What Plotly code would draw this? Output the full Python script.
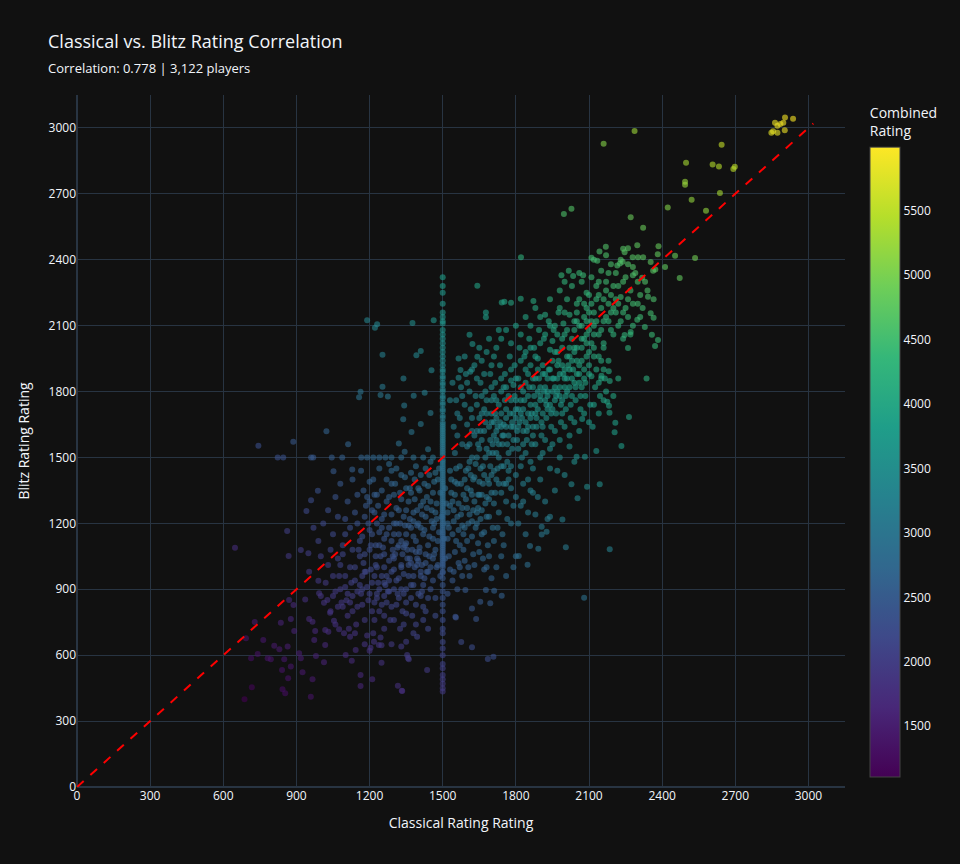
import plotly.graph_objects as go

# ---- Data (classical, blitz) grouped by region ----
top_sparse = [(2287,2986),(2160,2928),(2644,2924),(2498,2842),(2607,2834),(2633,2825),(2698,2823),(2692,2813),
              (2494,2755),(2494,2741),(2637,2704),(2521,2673),(2423,2638),(2580,2623),(2271,2594),(2322,2546),
              (2535,2408),(2472,2317),(1997,2608),(2028,2632)]
top_cluster = [(2904,3048),(2937,3042),(2863,3024),(2873,3010),(2897,3024),(2885,3018),(2848,2978),(2873,2978),
               (2903,2990),(2855,2985)]
green_edge = [(2453,2418),(2412,2367),(2385,2462),(2382,2425),(2298,2466),(2260,2452),(2246,2434),(2143,2438),
              (2169,2459),(2110,2409),(2134,2396),(2227,2383),(2238,2391),(2216,2374),(2279,2411),(2301,2411),
              (2322,2411),(2353,2390),(2372,2356),(2363,2350),(2280,2367),(2318,2318),(2342,2232),(2365,2220),
              (2353,2157),(2365,2136),(2298,2127),(2329,2094),(2358,2059),(2383,2035),(2371,2007),(2260,1998),
              (2271,2071),(2246,2057),(2336,1859),(2181,1892),(2151,1872),(2185,1848),(2175,1754),(2182,1736),
              (2184,1704),(2264,1684),(2208,1658),(2205,1615),(2233,1552),(2072,1675)]
upper_left = [(1190,2125),(1222,2091),(1231,2107),(1253,1968),(1376,2112),(1392,1965),(1410,1985),(1163,1799),
              (1157,1774),(1245,1784),(1275,1777),(1253,1822),(1339,1859),(1463,2125),(1821,2411),(1642,2282),
              (1742,2206),(1753,2209),(1780,2204),(1677,2160),(1677,2138),(1820,2223),(1872,2212),(1987,2330),
              (2017,2350),(2035,2326),(2076,2329),(1454,1897),(1610,2059),(1622,2016),(1642,1959),(1342,1737),
              (1381,1781),(1426,1795),(1573,1898),(1565,1863),(1613,1890),(1338,1674),(1372,1616),(1410,1652),
              (1450,1702),(1320,1564),(1344,1526),(1440,1537),(744,1553),(887,1572),(1023,1619),(1112,1560),
              (1052,1437),(1129,1445)]
blitz_1500_row = [(823,1500),(846,1500),(960,1500),(969,1500),(1045,1500),(1088,1500),(1166,1500),(1190,1500),
                  (1215,1500),(1240,1500),(1265,1500),(1290,1500),(1330,1500),(1380,1500),(1420,1500),(1460,1500)]
column_blitz = [435,450,470,490,510,540,560,600,630,660,700,720,760,800,830,860,890,920,950,975,
                980,1000,1010,1020,1030,1040,1050,1060,1070,1080,1090,1100,1110,1120,1130,1140,1150,
                1160,1170,1180,1190,1200,1210,1220,1230,1240,1250,1260,1270,1280,1290,1300,1310,1320,
                1330,1340,1350,1360,1370,1380,1390,1400,1410,1420,1430,1440,1450,1460,1470,1480,1490,
                1510,1520,1530,1540,1550,1560,1570,1580,1590,1600,1610,1620,1630,1640,1650,1660,1680,
                1690,1710,1720,1740,1750,1770,1780,1800,1810,1830,1840,1860,1870,1890,1900,1920,1940,
                1960,1980,2000,2020,2040,2060,2080,2110,2120,2140,2160,2200,2250,2280,2320]
classical_1500_column = [(1500, b) for b in column_blitz]
lower_right = [(2185,1082),(2080,862),(2005,1091),(1906,1149),(1892,1085),(1858,1097),(1848,1012),(1812,1051),
               (1708,593),(1685,583),(1620,636),(1576,660),(1637,765),(1554,771),(1436,533),(1350,661),
               (1358,586),(1334,437),(1593,897),(1654,843),(1695,836),(1742,871),(1620,813),(1677,897),
               (1711,893),(2130,1529),(2083,1503),(2049,1503),(2092,1367),(2144,1378),(2028,1378),(2053,1314),
               (1991,1218),(1906,1185),(1926,1162),(1940,1230),
               (1750,1100),(1780,1200),(1800,1050),(1820,1280),(1840,1150),(1860,1350),(1880,1240),(1900,1400),
               (1920,1300),(1940,1450),(1960,1350),(1980,1500),(2000,1420),(2020,1550),(2040,1480),(1790,1000),
               (1830,1380),(1870,1450),(1910,1520),(1950,1560),(1720,1000),(1740,1050),(1760,960),(1700,950),
               (1680,1000),(1800,1320),(1850,1250),(1890,1320),(1930,1220),(1970,1440)]
low_left = [(648,1089),(862,1165),(868,1051),(941,1256),(960,1305),(988,1349),(918,1079),(949,1064),(952,980),
            (990,939),(870,851),(888,828),(936,854),(729,751),(836,748),(877,765),(891,710),(693,677),(764,669),
            (809,643),(830,627),(864,639),(714,586),(741,605),(782,586),(795,581),(850,581),(911,609),(918,586),
            (841,533),(877,548),(866,495),(925,522),(966,490),(717,454),(687,399),(843,445),(854,427),(959,411),
            (980,596),(1013,568),(973,669),(1018,646),(952,765),(966,752),(977,710),(993,882),(1013,839),
            (1027,851),(1038,793),(1054,757),(1075,718),(1018,715),(1031,707),(1102,601),(1127,575),(1163,510),
            (1163,460),(1211,490),(1249,645),(1249,566),(1316,461),(1332,438),(1120,684),(1143,624),(1218,661),
            (1238,646),(1204,634),(1354,601),(1361,581),(1395,684),(1552,775)]
purple_core = [(1000,870),(1020,930),(1040,800),(1060,890),(1075,960),(1085,840),(1100,910),(1110,780),(1120,1000),
               (1130,870),(1140,940),(1150,820),(1160,1050),(1170,900),(1180,760),(1185,980),(1195,850),(1200,1080),
               (1210,930),(1215,700),(1225,1010),(1230,880),(1240,800),(1250,960),(1255,1090),(1265,920),(1270,840),
               (1280,1030),(1285,760),(1290,980),(1300,900),(1305,1060),(1310,830),(1320,950),(1325,720),(1330,1010),
               (1340,880),(1345,1100),(1350,790),(1360,960),(1365,1040),(1370,860),(1380,920),(1385,1000),(1390,740),
               (1400,880),(1405,1070),(1410,960),(1420,820),(1430,1020),(1060,740),(1080,1010),(1095,700),(1105,850),
               (1125,930),(1145,740),(1165,880),(1175,1020),(1190,690),(1205,990),(1220,840),(1235,930),(1245,1050),
               (1260,780),(1275,890),(1295,1080),(1315,880),(1335,800),(1355,1080),(1375,780),(1395,1010),(1415,890),
               (1425,950),(1440,860),(1030,1010),(1050,960),(1090,1060),(1115,720),(1155,1080),(1200,620),(1245,680),
               (1290,650),(1330,640),(1280,890),(1320,1100),(1170,960),(1230,1000),(1260,870),(1300,990),(1350,900)]
purple_dense = [(1080,900),(1100,960),(1120,840),(1140,1000),(1160,920),(1180,1060),(1200,880),(1220,960),
                (1240,900),(1260,1000),(1280,940),(1300,1040),(1320,860),(1340,970),(1360,1010),(1380,960),
                (1400,1030),(1420,920),(1440,980),(1460,940),(1090,820),(1110,880),(1130,800),(1150,890),
                (1170,830),(1190,910),(1210,800),(1230,860),(1250,830),(1270,960),(1290,820),(1310,940),
                (1330,900),(1350,840),(1370,920),(1390,830),(1410,870),(1430,800),(1450,900),(1470,860),
                (1070,820),(1050,870),(1140,700),(1180,650),(1220,760),(1260,720),(1300,760),(1340,740),
                (1380,700),(1420,760),(1470,780),(1440,720),(1520,880),(1540,940),(1560,900),(1580,960),
                (1480,1010),(1460,1040),(1260,930),(1180,980)]
left_mid = [(1050,1150),(1070,1230),(1090,1100),(1110,1300),(1120,1180),(1140,1250),(1160,1120),(1175,1350),
            (1185,1280),(1195,1200),(1060,1320),(1080,1380),(1100,1220),(1130,1400),(1150,1330),(1165,1440),
            (1200,1390),(1220,1330),(1030,1260),(1010,1200),(990,1120),(970,1180),(1000,1050),(1040,1080),
            (1070,1040),(1100,1150),(1130,1080),(1205,1100),(1225,1050),(1150,1200)]
blue_core = [(1420,1150),(1430,1230),(1440,1100),(1450,1300),(1460,1180),(1470,1250),(1480,1120),(1490,1340),
             (1455,1210),(1465,1060),(1410,1280),(1400,1200),(1390,1120),(1380,1250),(1370,1180),(1360,1300),
             (1350,1150),(1340,1230),(1330,1120),(1320,1260),(1310,1200),(1300,1150),(1290,1240),(1280,1180),
             (1270,1300),(1260,1130),(1250,1220),(1240,1160),(1235,1280),(1225,1100),(1520,1200),(1530,1280),
             (1540,1150),(1550,1330),(1560,1230),(1570,1100),(1580,1270),(1590,1180),(1600,1360),(1610,1240),
             (1620,1140),(1630,1300),(1640,1200),(1650,1390),(1660,1260),(1670,1160),(1680,1320),(1690,1230),
             (1700,1420),(1710,1290),(1525,1050),(1545,980),(1565,1020),(1585,1080),(1605,1000),(1625,1060),
             (1645,1110),(1665,1040),(1685,1100),(1705,1180),(1415,1010),(1435,980),(1445,1050),(1475,1000),
             (1395,1040),(1375,1080),(1355,1040),(1335,1060),(1315,1090),(1295,1050),(1425,1380),(1445,1420),
             (1465,1390),(1485,1450),(1405,1350),(1385,1400),(1365,1360),(1345,1410),(1325,1340),(1305,1380),
             (1535,1400),(1555,1450),(1575,1380),(1595,1440),(1615,1420),(1635,1470),(1655,1450),(1675,1500),
             (1695,1460),(1720,1520),(1410,1180),(1435,1270),(1460,1130),(1475,1220),(1395,1260),(1365,1220),
             (1345,1190),(1325,1200),(1520,1130),(1545,1260),(1565,1170),(1585,1330),(1600,1120),(1620,1210),
             (1645,1270),(1660,1330),(1690,1380),(1715,1340),(1730,1250),(1750,1380),(1740,1460),(1760,1300),
             (1770,1440),(1780,1360),(1725,1180),(1745,1150),(1765,1220),(1270,1400),(1250,1350),(1240,1450),
             (1280,1470),(1300,1330),(1260,1060),(1230,1200),(1210,1260),(1200,1170),(1190,1320),(1215,1400),
             (1180,1230),(1170,1140)]
blue_dense = [(1380,1140),(1395,1190),(1405,1090),(1415,1240),(1425,1170),(1435,1320),(1445,1140),(1455,1260),
              (1465,1200),(1475,1290),(1485,1160),(1495,1230),(1505,1130),(1515,1290),(1525,1180),(1535,1340),
              (1545,1210),(1555,1120),(1565,1290),(1575,1240),(1585,1150),(1595,1310),(1605,1200),(1615,1350),
              (1625,1260),(1635,1180),(1645,1330),(1655,1220),(1665,1380),(1675,1290),(1385,1310),(1400,1360),
              (1420,1300),(1440,1370),(1460,1340),(1480,1400),(1510,1360),(1530,1440),(1550,1390),(1570,1460),
              (1590,1400),(1610,1480),(1630,1410),(1650,1330),(1670,1420),(1690,1310),(1710,1440),(1730,1380),
              (1750,1460),(1770,1400),(1330,1000),(1350,1110),(1370,1020),(1390,1070),(1410,980),(1430,1060),
              (1450,1000),(1470,1080),(1490,960),(1510,1040),(1530,990),(1550,1070),(1570,1000),(1590,1030),
              (1610,960),(1630,1010),(1650,1070),(1670,990),(1690,1050),(1710,1120),(1290,1120),(1300,1200),
              (1310,1270),(1320,1150),(1330,1310),(1340,1090),(1350,1260),(1360,1190),(1370,1340),(1380,1210),
              (1260,1240),(1270,1150),(1280,1320),(1290,1380),(1250,1180),(1240,1100),(1230,1330),(1220,1250),
              (1210,1150),(1200,1300),(1520,1250),(1540,1300),(1560,1380),(1580,1190),(1600,1270),(1620,1330),
              (1640,1250),(1660,1150),(1680,1230),(1700,1340),(1430,1450),(1450,1480),(1470,1430),(1410,1420),
              (1390,1460),(1370,1430),(1350,1360),(1330,1420),(1310,1450),(1290,1440)]
teal_band = [(1600,1550),(1620,1620),(1640,1500),(1650,1680),(1660,1580),(1670,1720),(1680,1540),(1690,1640),
             (1700,1760),(1710,1600),(1720,1680),(1730,1560),(1740,1800),(1750,1650),(1760,1720),(1770,1600),
             (1780,1850),(1790,1700),(1800,1760),(1810,1640),(1820,1820),(1830,1720),(1840,1900),(1850,1780),
             (1860,1680),(1870,1860),(1880,1740),(1890,1950),(1900,1820),(1910,1700),(1920,1880),(1930,1780),
             (1940,1990),(1950,1860),(1960,1760),(1970,1920),(1980,1820),(1990,2040),(2000,1900),(2010,1800),
             (2020,1960),(2030,1860),(2040,2080),(2050,1940),(2060,1840),(2070,2000),(2080,1900),(2090,2120),
             (2100,1980),(2110,1870),(1605,1450),(1625,1400),(1645,1560),(1665,1460),(1685,1400),(1705,1520),
             (1725,1450),(1745,1560),(1765,1480),(1785,1540),(1805,1580),(1825,1500),(1845,1620),(1865,1560),
             (1885,1640),(1905,1600),(1925,1680),(1945,1640),(1965,1700),(1985,1660),(2005,1720),(2025,1680),
             (2045,1760),(2065,1720),(2085,1780),(2105,1740),(2125,1820),(2145,1780),(2165,1860),(2115,1640),
             (1615,1720),(1635,1780),(1655,1840),(1675,1800),(1695,1880),(1715,1840),(1735,1920),(1755,1880),
             (1775,1960),(1795,1920),(1815,2000),(1835,1960),(1855,2040),(1875,2000),(1895,2080),(1915,2040),
             (1935,2120),(1955,2080),(1975,2160),(1995,2110),(1600,1650),(1620,1500),(1640,1620),(1660,1700),
             (1680,1760),(1700,1660),(1720,1580),(1740,1700),(1760,1640),(1780,1760),(1800,1680),(1820,1760),
             (1840,1840),(1860,1920),(1880,1860),(1900,1760),(1920,1820),(1940,1900),(1960,1980),(1980,1880),
             (2000,1820),(2020,1900),(2040,1980),(2060,1920),(2080,2040),(2100,1920),(2120,2060),(2140,1960),
             (2160,2020),(2180,1940),(1790,1580),(1810,1720),(1830,1620),(1850,1700),(1870,1640),(1890,1800),
             (1910,1880),(1930,1720),(1950,1800),(1970,1860),(1990,1760),(2010,1860),(2030,1780),(2050,1880),
             (2070,1820),(2090,1960),(2110,2020),(2130,1900),(2150,1860),(2170,1800),(1550,1520),(1560,1600),
             (1570,1680),(1580,1560),(1590,1740),(1545,1640),(1555,1760),(1575,1820),(1595,1880),(1565,1950)]
teal_dense = [(1700,1700),(1710,1780),(1720,1620),(1730,1740),(1740,1640),(1750,1820),(1760,1680),(1770,1780),
              (1780,1640),(1790,1830),(1800,1720),(1810,1860),(1820,1700),(1830,1800),(1840,1660),(1850,1880),
              (1860,1740),(1870,1820),(1880,1700),(1890,1900),(1900,1780),(1910,1920),(1920,1760),(1930,1860),
              (1940,1740),(1950,1940),(1960,1820),(1970,1980),(1980,1780),(1990,1920),(2000,1860),(2010,1960),
              (2020,1820),(2030,1940),(2040,1840),(2050,2000),(2060,1880),(2070,1940),(2080,1860),(2090,2020),
              (1705,1560),(1725,1640),(1745,1600),(1765,1560),(1785,1660),(1805,1620),(1825,1680),(1845,1580),
              (1865,1700),(1885,1680),(1905,1660),(1925,1740),(1945,1700),(1965,1780),(1985,1740),(2005,1780),
              (2025,1740),(2045,1820),(2065,1780),(2085,1840),(1655,1620),(1675,1660),(1695,1580),(1715,1700),
              (1735,1660),(1755,1760),(1775,1700),(1795,1780),(1815,1660),(1835,1760),(1855,1820),(1875,1780),
              (1895,1860),(1915,1800),(1935,1900),(1955,1860),(1975,1940),(1995,1880),(2015,1920),(2035,1900),
              (1610,1560),(1630,1600),(1650,1540),(1670,1620),(1690,1520),(1710,1660),(1730,1500),(1750,1600),
              (1770,1520),(1790,1640),(1810,1540),(1830,1560),(1850,1640),(1870,1600),(1890,1720),(1910,1640),
              (1930,1800),(1950,1720),(1970,1800),(1990,1700),(1620,1680),(1640,1740),(1660,1780),(1680,1700),
              (1700,1820),(1720,1760),(1740,1860),(1760,1820),(1780,1900),(1800,1860),(1820,1940),(1840,1980),
              (1860,2000),(1880,1960),(1900,2020),(2100,1880),(2120,1960),(2140,1840),(2160,1900),(2150,1940)]
teal_spread = [(1560,1700),(1580,1780),(1600,1840),(1620,1900),(1640,1860),(1660,1940),(1680,1980),(1700,1920),
               (1720,2000),(1740,2040),(1760,2080),(1780,2020),(1800,2100),(1820,2060),(1840,2140),(1860,2100),
               (1880,2180),(1900,2140),(1920,2060),(1940,2100),(1530,1760),(1540,1840),(1590,1960),(1610,1800),
               (1630,1920),(1650,2000),(1670,1880),(1690,2040),(1710,1960),(1730,2080),(1820,1460),(1840,1520),
               (1860,1480),(1880,1560),(1900,1500),(1920,1580),(1940,1540),(1960,1620),(1980,1580),(2000,1640),
               (2020,1600),(2040,1660),(2060,1620),(2080,1700),(2100,1660),(2120,1740),(2140,1700),(2160,1760),
               (2200,1780),(2220,1860),(1760,1380),(1780,1460),(1800,1420),(1720,1400),(1740,1340),(1790,1280),
               (1810,1200),(1830,1300),(1850,1400),(1870,1340)]
green_core = [(2000,2060),(2020,2150),(2040,2000),(2060,2100),(2080,2200),(2100,2080),(2120,2160),(2140,2240),
              (2160,2120),(2180,2200),(2200,2060),(2220,2280),(2240,2160),(2260,2220),(2280,2100),(2300,2300),
              (2320,2180),(2340,2260),(2010,2220),(2030,2280),(2050,2200),(2070,2300),(2090,2250),(2110,2320),
              (2130,2280),(2150,2350),(2170,2300),(2190,2380),(2210,2340),(2230,2400),(2100,2160),(2140,2060),
              (2180,2120),(2200,2180),(2220,2100),(2240,2040),(2260,2140),(2280,2200),(2160,2000),(2120,2000),
              (2050,2120),(2070,2040),(2090,2180),(2130,2220),(2170,2260),(2190,2080),(2210,2220),(2250,2320),
              (2290,2340),(2310,2240),(1960,2100),(1980,2180),(1940,2220),(1920,2150),(2000,2300),(1980,2260),
              (2060,2340),(2120,2400),(2170,2420),(2240,2450)]
green_dense = [(2010,2080),(2030,2040),(2050,2160),(2070,2100),(2090,2060),(2110,2200),(2130,2120),(2150,2180),
               (2170,2140),(2190,2240),(2210,2160),(2230,2230),(2250,2180),(2270,2260),(2020,2000),(2040,2120),
               (2060,2220),(2080,2140),(2100,2240),(2120,2100),(2140,2300),(2160,2220),(2180,2340),(2200,2280),
               (2220,2200),(2240,2300),(2260,2380),(2280,2330),(2300,2200),(2330,2300),(1990,2000),(2000,2160),
               (1970,2060),(1950,2030),(2110,2120),(2150,2080),(2190,2160),(2230,2120),(2270,2060),(2310,2140)]

regions = [top_sparse, top_cluster, green_edge, upper_left, blitz_1500_row, classical_1500_column,
           lower_right, low_left, purple_core, purple_dense, left_mid, blue_core, blue_dense,
           teal_band, teal_dense, teal_spread, green_core, green_dense]

classical = [c for reg in regions for c, _ in reg]
blitz = [b for reg in regions for _, b in reg]
combined = [c + b for c, b in zip(classical, blitz)]

title_text = "Classical vs. Blitz Rating Correlation"
subtitle_text = "Correlation: 0.778 | 3,122 players"
diag_end = 3020
combined_range = (1106, 5994)
axis_max = 3150

fig = go.Figure()
fig.add_trace(go.Scatter(
    x=classical, y=blitz, mode="markers",
    marker=dict(size=6, opacity=0.6, color=combined, colorscale="Viridis",
                cmin=combined_range[0], cmax=combined_range[1],
                colorbar=dict(title=dict(text="Combined<br>Rating"))),
    showlegend=False,
))
fig.add_trace(go.Scatter(
    x=[0, diag_end], y=[0, diag_end], mode="lines",
    line=dict(color="red", width=2, dash="dash"), showlegend=False,
))
fig.update_layout(
    template="plotly_dark",
    width=960, height=864,
    margin=dict(l=77, r=113, t=95, b=77),
    title=dict(text=title_text, subtitle=dict(text=subtitle_text), x=0.05, font=dict(size=18)),
    xaxis=dict(title=dict(text="Classical Rating Rating"), range=[0, axis_max], dtick=300),
    yaxis=dict(title=dict(text="Blitz Rating Rating"), range=[0, axis_max], dtick=300),
)
fig.write_html("out.html", config={"displayModeBar": False},
               post_script="document.body.style.margin='0';")
